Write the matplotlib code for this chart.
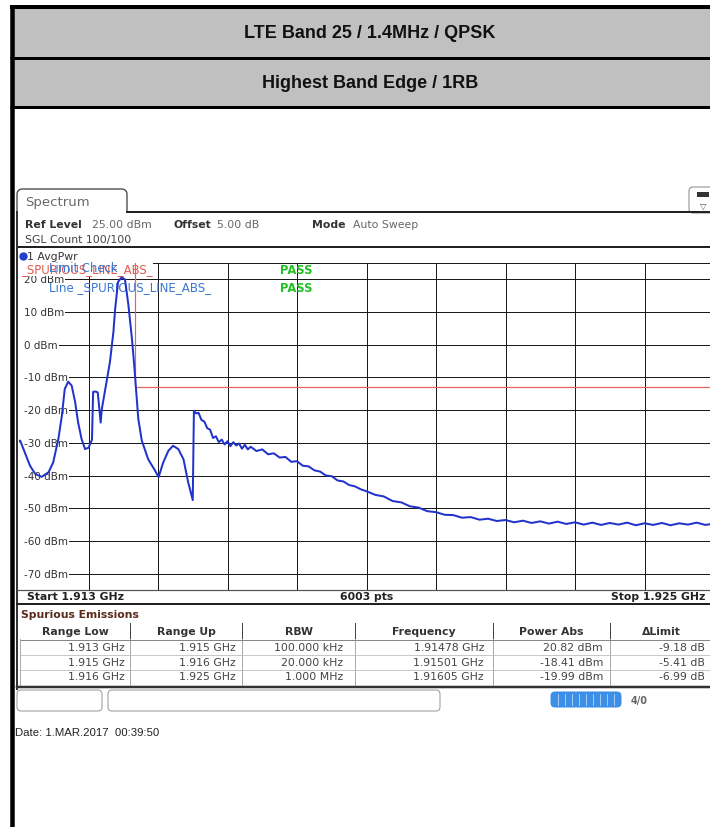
import matplotlib
matplotlib.use("Agg")
import matplotlib.pyplot as plt
from matplotlib.patches import Rectangle, FancyBboxPatch
import numpy as np

W, H = 710, 828

# ---------------- data ----------------
title_1 = "LTE Band 25 / 1.4MHz / QPSK"
title_2 = "Highest Band Edge / 1RB"

freq_start_mhz = 1913.0
freq_stop_mhz = 1925.0
ref_level_dbm = 25.0
y_bottom_dbm = -75.0
y_ticks_dbm = [20, 10, 0, -10, -20, -30, -40, -50, -60, -70]

trace_freq_mhz = [
    1913.00, 1913.02, 1913.10, 1913.19, 1913.28, 1913.39, 1913.51, 1913.59,
    1913.68, 1913.74, 1913.79, 1913.85, 1913.91, 1913.97, 1914.02, 1914.08,
    1914.14, 1914.20, 1914.24, 1914.26, 1914.28, 1914.32, 1914.36, 1914.39,
    1914.41, 1914.43, 1914.51, 1914.57, 1914.63, 1914.66, 1914.71, 1914.77,
    1914.83, 1914.89, 1914.95, 1914.99, 1915.02, 1915.06, 1915.12, 1915.23,
    1915.35, 1915.41, 1915.49, 1915.58, 1915.66, 1915.75, 1915.84, 1915.92,
    1915.98, 1916.00, 1916.02, 1916.06, 1916.10, 1916.15, 1916.20, 1916.25,
    1916.30, 1916.35, 1916.40, 1916.45, 1916.50, 1916.55, 1916.60, 1916.65,
    1916.70, 1916.75, 1916.80, 1916.85, 1916.90, 1916.95, 1917.00, 1917.10,
    1917.20, 1917.30, 1917.40, 1917.50, 1917.60, 1917.70, 1917.80, 1917.90,
    1918.00, 1918.10, 1918.20, 1918.30, 1918.40, 1918.50, 1918.60, 1918.70,
    1918.80, 1918.90, 1919.00, 1919.15, 1919.30, 1919.45, 1919.60, 1919.75,
    1919.90, 1920.05, 1920.20, 1920.35, 1920.50, 1920.65, 1920.80, 1920.95,
    1921.10, 1921.25, 1921.40, 1921.55, 1921.70, 1921.85, 1922.00, 1922.15,
    1922.30, 1922.45, 1922.60, 1922.75, 1922.90, 1923.05, 1923.20, 1923.35,
    1923.50, 1923.65, 1923.80, 1923.95, 1924.10, 1924.25, 1924.40, 1924.55,
    1924.70, 1924.85, 1925.00,
]
trace_dbm = [
    -29.5, -29.3, -32.9, -37.0, -39.5, -40.4, -39.0, -36.0,
    -28.8, -21.7, -13.5, -11.3, -12.5, -17.6, -23.7, -28.8,
    -31.9, -31.5, -29.9, -29.0, -14.4, -14.3, -14.6, -20.0,
    -23.8, -19.7, -11.4, -5.3, 3.9, 10.9, 19.2, 20.6,
    20.0, 12.0, 1.8, -6.4, -13.5, -22.7, -29.3, -35.0,
    -38.5, -40.5, -36.0, -32.4, -30.9, -31.9, -35.0, -42.0,
    -46.2, -47.5, -20.2, -21.0, -20.8, -23.0, -23.5, -25.5,
    -26.0, -28.5, -28.0, -29.8, -29.0, -30.5, -29.5, -31.0,
    -29.8, -30.8, -30.2, -31.8, -30.6, -32.0, -31.2, -32.5,
    -32.0, -33.5, -33.2, -34.5, -34.3, -35.8, -35.6, -37.0,
    -37.2, -38.4, -38.8, -40.0, -40.2, -41.5, -41.8, -42.9,
    -43.3, -44.2, -44.8, -45.9, -46.4, -47.8, -48.2, -49.4,
    -49.8, -50.9, -51.2, -52.0, -52.1, -52.9, -52.7, -53.5,
    -53.2, -53.9, -53.6, -54.3, -53.8, -54.5, -54.0, -54.7,
    -54.1, -54.8, -54.3, -55.0, -54.4, -55.1, -54.5, -55.0,
    -54.4, -55.2, -54.6, -55.1, -54.5, -55.2, -54.6, -55.0,
    -54.4, -55.1, -54.7,
]

limit_freq_mhz = [1913.0, 1915.0, 1915.0, 1925.0]
limit_dbm = [30.0, 30.0, -13.0, -13.0]

table_columns = ["Range Low", "Range Up", "RBW", "Frequency", "Power Abs", "ΔLimit"]
range_low = ["1.913 GHz", "1.915 GHz", "1.916 GHz"]
range_up = ["1.915 GHz", "1.916 GHz", "1.925 GHz"]
rbw = ["100.000 kHz", "20.000 kHz", "1.000 MHz"]
peak_freq = ["1.91478 GHz", "1.91501 GHz", "1.91605 GHz"]
power_abs = ["20.82 dBm", "-18.41 dBm", "-19.99 dBm"]
delta_limit = ["-9.18 dB", "-5.41 dB", "-6.99 dB"]

# ---------------- figure ----------------
PX = 0.72  # points per pixel at dpi 100
fig = plt.figure(figsize=(W / 100, H / 100), dpi=100)
fig.patch.set_facecolor("white")

ov = fig.add_axes([0, 0, 1, 1])
ov.set_xlim(0, W)
ov.set_ylim(H, 0)
ov.axis("off")

SANS = ["DejaVu Sans"]
ARIAL = ["Liberation Sans", "DejaVu Sans"]
FS = 7.8

# header table
ov.add_patch(Rectangle((12, 8), W, 51, fc="#c0c0c0", ec="none"))
ov.add_patch(Rectangle((12, 59), W, 48, fc="#c0c0c0", ec="none"))
ov.plot([10, W], [8, 8], color="black", lw=4 * PX, solid_capstyle="butt")
ov.plot([10, W], [59, 59], color="black", lw=3 * PX, solid_capstyle="butt")
ov.plot([10, W], [107.5, 107.5], color="black", lw=3 * PX, solid_capstyle="butt")
ov.plot([12, 12], [6, H], color="black", lw=4.5 * PX, solid_capstyle="butt")
ov.text(370, 34, title_1, ha="center", va="center", fontsize=13,
        fontweight="bold", family=ARIAL, color="#111")
ov.text(370, 83, title_2, ha="center", va="center", fontsize=13,
        fontweight="bold", family=ARIAL, color="#111")

# spectrum tab
r = 5
tab_x0, tab_x1, tab_y0, tab_y1 = 17, 127, 190, 213
a1 = np.linspace(np.pi, 1.5 * np.pi, 8)
a2 = np.linspace(1.5 * np.pi, 2 * np.pi, 8)
tx = np.concatenate([[tab_x0], tab_x0 + r + r * np.cos(a1), tab_x1 - r + r * np.cos(a2), [tab_x1]])
ty = np.concatenate([[tab_y1], tab_y0 + r + r * np.sin(a1), tab_y0 + r + r * np.sin(a2), [tab_y1]])
ov.plot(tx, ty, color="#444", lw=1.3 * PX)
ov.text(25, 203, "Spectrum", fontsize=9.5, family=SANS, color="#6a6a6a", va="center")
ov.plot([127, W], [213, 213], color="#222", lw=2 * PX)

# icon top-right
ov.add_patch(FancyBboxPatch((689, 188), 24, 26, boxstyle="round,pad=0,rounding_size=4",
                            fc="white", ec="#888", lw=1 * PX))
ov.add_patch(Rectangle((697, 193), 12, 5, fc="#333", ec="none"))
ov.text(703, 206, "▽", fontsize=6, ha="center", va="center", color="#555", family=SANS)

# settings rows
def rs(x, y, s, bold=False, color="#333", ha="left", size=FS):
    ov.text(x, y, s, fontsize=size, family=SANS, color=color, ha=ha, va="center",
            fontweight="bold" if bold else "normal")

rs(25, 225, "Ref Level", bold=True)
rs(92, 225, "25.00 dBm", color="#666")
rs(173, 225, "Offset", bold=True)
rs(217, 225, "5.00 dB", color="#666")
rs(312, 225, "Mode", bold=True)
rs(353, 225, "Auto Sweep", color="#666")
rs(25, 240, "SGL Count 100/100", color="#444")
ov.plot([17, W], [248, 248], color="#222", lw=2 * PX)

# left frame of screenshot
ov.plot([17, 17], [213, 690], color="#333", lw=2 * PX)

# bottom rows
ov.plot([17, W], [590.5, 590.5], color="#555", lw=1.2 * PX)
rs(27, 597, "Start 1.913 GHz", bold=True, color="#222")
rs(367, 597, "6003 pts", bold=True, color="#222", ha="center")
rs(705, 597, "Stop 1.925 GHz", bold=True, color="#222", ha="right")
ov.plot([17, W], [605, 605], color="#222", lw=2 * PX)
rs(21, 615, "Spurious Emissions", bold=True, color="#5a2a1a")

# results table
col_edges = [20, 130, 242, 355, 493, 610, 712]
col_right = [125, 236, 343, 484, 603, 705]
for i, name in enumerate(table_columns):
    cx = (col_edges[i] + col_edges[i + 1]) / 2
    rs(cx, 632, name, bold=True, color="#333", ha="center")
for xe in col_edges[1:-1]:
    ov.plot([xe, xe], [624, 640], color="#444", lw=1 * PX)
    ov.plot([xe, xe], [640, 686], color="#aaa", lw=1 * PX)
ov.plot([20, W], [640.5, 640.5], color="#888", lw=1 * PX)
ov.plot([20, W], [656, 656], color="#bbb", lw=0.8 * PX)
ov.plot([20, W], [670.5, 670.5], color="#bbb", lw=0.8 * PX)
ov.plot([20, 20], [640, 686], color="#aaa", lw=1 * PX)
rows = list(zip(range_low, range_up, rbw, peak_freq, power_abs, delta_limit))
for j, row in enumerate(rows):
    yy = 648.5 + j * 14.5
    for i, val in enumerate(row):
        rs(col_right[i], yy, val, color="#444", ha="right")
ov.plot([17, W], [688, 688], color="#333", lw=2.5 * PX)

# status bar
ov.add_patch(FancyBboxPatch((17, 691), 85, 21, boxstyle="round,pad=0,rounding_size=4",
                            fc="white", ec="#999", lw=1 * PX))
ov.add_patch(FancyBboxPatch((108, 691), 332, 21, boxstyle="round,pad=0,rounding_size=4",
                            fc="white", ec="#999", lw=1 * PX))
ov.add_patch(FancyBboxPatch((551, 693), 70, 15, boxstyle="round,pad=0,rounding_size=4",
                            fc="#3c8fe6", ec="#3c8fe6", lw=1 * PX))
for xs in range(558, 620, 7):
    ov.plot([xs, xs], [695, 706], color="#cfe3fa", lw=0.7 * PX)
ov.text(639, 701, "4/0", fontsize=7, family=SANS, fontweight="bold", color="#666",
        ha="center", va="center")

# date
ov.text(15, 733, "Date: 1.MAR.2017  00:39:50", fontsize=8.2, family=ARIAL,
        color="#222", va="center")

# ---------------- spectrum plot ----------------
x_left_px, x_right_px = 19, 714
y_top_px, y_bot_px = 264, 591
ax = fig.add_axes([x_left_px / W, (H - y_bot_px) / H,
                   (x_right_px - x_left_px) / W, (y_bot_px - y_top_px) / H])
ax.set_xlim(freq_start_mhz, freq_stop_mhz)
ax.set_ylim(y_bottom_dbm, ref_level_dbm)
ax.set_facecolor("none")
for s in ax.spines.values():
    s.set_visible(False)
ax.set_xticks([])
ax.set_yticks([])

div = (freq_stop_mhz - freq_start_mhz) / 10
for k in range(1, 10):
    ax.axvline(freq_start_mhz + k * div, color="#1a1a1a", lw=1 * PX, zorder=1)
for v in y_ticks_dbm + [ref_level_dbm]:
    ax.axhline(v, xmin=6 / 695, color="#1a1a1a", lw=1 * PX, zorder=1)

for v in y_ticks_dbm:
    ax.text(freq_start_mhz + 0.085, v, f"{v} dBm", fontsize=7.5, family=SANS, color="#333",
            ha="left", va="center", zorder=2,
            bbox=dict(fc="white", ec="none", pad=0.8))

ax.plot(limit_freq_mhz, limit_dbm, color="#e8605a", lw=1.2 * PX, zorder=3)
ax.plot(trace_freq_mhz, trace_dbm, color="#2233cc", lw=2.0 * PX, zorder=4)

# overlay texts at top of the diagram
def F(x, y):
    return x / W, 1 - y / H

ax.plot(*F(22.5, 257), marker="o", markersize=5, color="#2040d0",
        transform=fig.transFigure, clip_on=False, zorder=5)
ax.text(*F(27, 257), "1 AvgPwr", transform=fig.transFigure, fontsize=FS, family=SANS,
        color="#333", va="center", zorder=5)
ax.text(*F(21, 270), "_SPURIOUS_LINE_ABS_", transform=fig.transFigure, fontsize=8.4,
        family=SANS, color="#e05a50", va="center", zorder=2.5,
        bbox=dict(fc="white", ec="none", pad=0.3))
ax.text(*F(49, 268), "Limit Check", transform=fig.transFigure, fontsize=8.4,
        family=SANS, color="#3a78d0", va="center", zorder=2.6)
ax.text(*F(49, 288), "Line _SPURIOUS_LINE_ABS_", transform=fig.transFigure, fontsize=8.6,
        family=SANS, color="#3a78d0", va="center", zorder=2.6)
ax.text(*F(280, 270), "PASS", transform=fig.transFigure, fontsize=8.3, fontweight="bold",
        family=SANS, color="#22c022", va="center", zorder=2.6)
ax.text(*F(280, 288), "PASS", transform=fig.transFigure, fontsize=8.3, fontweight="bold",
        family=SANS, color="#22c022", va="center", zorder=2.6)

fig.savefig("out.png", dpi=100)
